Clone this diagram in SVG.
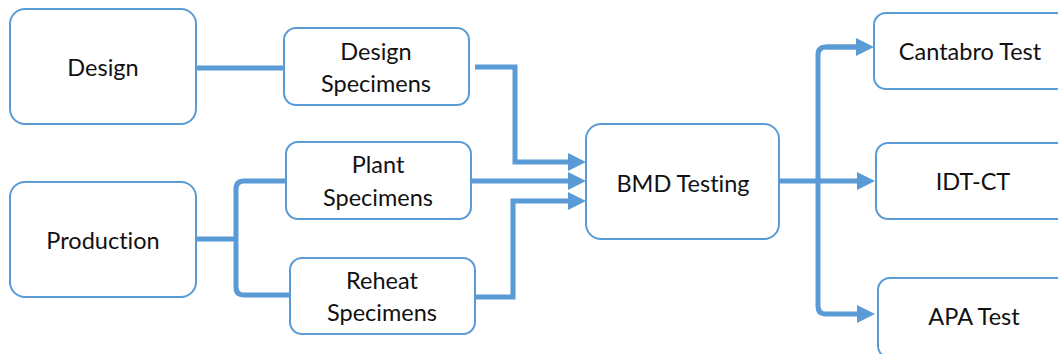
<svg xmlns="http://www.w3.org/2000/svg" width="1058" height="354" viewBox="0 0 1058 354">
  <style>
    .box { fill: #ffffff; stroke: #5B9BD5; stroke-width: 2; }
    .lbl { font-family: Lato, "Liberation Sans", sans-serif; font-size: 23.5px; fill: #111111; text-anchor: middle; font-variant-ligatures: none; }
    .wire { fill: none; stroke: #5B9BD5; stroke-width: 5; }
  </style>
  <defs>
    <marker id="head" markerUnits="userSpaceOnUse" markerWidth="20" markerHeight="20" refX="0" refY="9" orient="auto">
      <polygon points="0,0 18,9 0,18" fill="#5B9BD5"/>
    </marker>
  </defs>
  <rect width="1058" height="354" fill="#ffffff"/>

  <g id="connectors">
    <!-- Design to Design Specimens -->
    <path class="wire" d="M196,68 H284"/>
    <!-- Production bracket to Plant and Reheat -->
    <path class="wire" d="M196,239 H236"/>
    <path class="wire" d="M286,181 H244 Q236,181 236,189 V287 Q236,295 244,295 H290"/>
    <!-- specimens into BMD Testing -->
    <path class="wire" d="M475,67 H515 V162 H568" marker-end="url(#head)"/>
    <path class="wire" d="M471,181 H568" marker-end="url(#head)"/>
    <path class="wire" d="M475,297 H513 V201 H568" marker-end="url(#head)"/>
    <!-- BMD Testing out to the tests -->
    <path class="wire" d="M779,181 H857" marker-end="url(#head)"/>
    <path class="wire" d="M856,47 H826 Q818,47 818,55 V306 Q818,314 826,314 H857" marker-end="url(#head)"/>
    <path class="wire" d="M826,47 H856" marker-end="url(#head)"/>
  </g>

  <g id="design">
    <rect class="box" x="10" y="9" width="186" height="115" rx="15"/>
    <text class="lbl" x="103" y="76">Design</text>
  </g>
  <g id="production">
    <rect class="box" x="10" y="182" width="186" height="115" rx="15"/>
    <text class="lbl" x="103" y="249">Production</text>
  </g>
  <g id="design-specimens">
    <rect class="box" x="284" y="28" width="185" height="77" rx="12"/>
    <text class="lbl" x="376" y="60">Design</text>
    <text class="lbl" x="376" y="92">Specimens</text>
  </g>
  <g id="plant-specimens">
    <rect class="box" x="286" y="142" width="185" height="77" rx="12"/>
    <text class="lbl" x="378" y="173">Plant</text>
    <text class="lbl" x="378" y="206">Specimens</text>
  </g>
  <g id="reheat-specimens">
    <rect class="box" x="290" y="258" width="185" height="76" rx="12"/>
    <text class="lbl" x="382" y="289">Reheat</text>
    <text class="lbl" x="382" y="321">Specimens</text>
  </g>
  <g id="bmd-testing">
    <rect class="box" x="586" y="124" width="193" height="115" rx="15"/>
    <text class="lbl" x="683" y="192">BMD Testing</text>
  </g>
  <g id="cantabro-test">
    <rect class="box" x="874" y="13" width="194" height="76" rx="12"/>
    <text class="lbl" x="970" y="60">Cantabro Test</text>
  </g>
  <g id="idt-ct">
    <rect class="box" x="876" y="143" width="194" height="76" rx="12"/>
    <text class="lbl" x="973" y="190">IDT-CT</text>
  </g>
  <g id="apa-test">
    <rect class="box" x="878" y="278" width="194" height="80" rx="12"/>
    <text class="lbl" x="974" y="325">APA Test</text>
  </g>
</svg>
